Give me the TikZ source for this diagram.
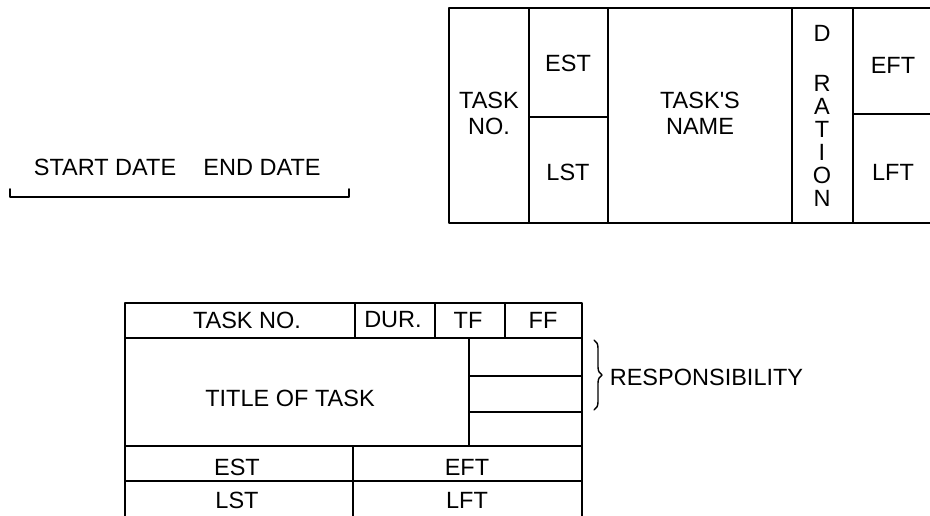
\documentclass[tikz,border=0pt]{standalone}
\usepackage{fontspec}
\setmainfont{Liberation Sans}
\usetikzlibrary{decorations.pathreplacing}

\tikzset{
  lbl/.style={inner sep=0pt, align=center, font=\fontsize{23.5}{26}\selectfont},
  stack/.style={lbl, font=\fontsize{23.5}{23}\selectfont},
}

\begin{document}
\begin{tikzpicture}[line width=1.7pt, line cap=round, line join=round, x=1pt, y=-1pt]
  \useasboundingbox (0,0) rectangle (930,516);
  % Time bar.
  \node[lbl] (start) at (105,167) {START DATE};
  \node[lbl] (end) at (262,167) {END DATE};
  \draw (10,189) -- (10,197) -- (349,197) -- (349,189);
  % Wide task box, cut at the right.
  \draw (930,8) -- (449,8) -- (449,223) -- (930,223);
  \draw (529,8) -- (529,223);
  \draw (608,8) -- (608,223);
  \draw (792,8) -- (792,223);
  \draw (853,8) -- (853,223);
  \draw (529,117) -- (608,117);
  \draw (853,114) -- (930,114);
  \node[lbl] (taskno) at (489,113) {TASK\\NO.};
  \node[lbl] (est) at (568,63) {EST};
  \node[lbl] (lst) at (568,172) {LST};
  \node[lbl] (name) at (700,113) {TASK\textquotesingle S\\NAME};
  \node[lbl] (d) at (822,33) {D};
  \node[stack] (ration) at (822,140.5) {R\\A\\T\\I\\O\\N};
  \node[lbl] (eft) at (893,65) {EFT};
  \node[lbl] (lft) at (893,172) {LFT};
  % Compact task box.
  \draw (125,518) -- (125,303) -- (582,303) -- (582,518);
  \draw (125,338) -- (582,338);
  \draw (125,446) -- (582,446);
  \draw (125,481) -- (582,481);
  \draw (355,303) -- (355,338);
  \draw (435,303) -- (435,338);
  \draw (505,303) -- (505,338);
  \draw (469,338) -- (469,446);
  \draw (469,376) -- (582,376);
  \draw (469,412) -- (582,412);
  \draw (353,446) -- (353,518);
  \node[lbl] (no2) at (247,320) {TASK NO.};
  \node[lbl] (dur) at (393,320) {DUR.};
  \node[lbl] (tf) at (468,320) {TF};
  \node[lbl] (ff) at (543,320) {FF};
  \node[lbl] (title) at (290,398) {TITLE OF TASK};
  \node[lbl] (est2) at (237,467) {EST};
  \node[lbl] (eft2) at (467,467) {EFT};
  \node[lbl] (lst2) at (237,500) {LST};
  \node[lbl] (lft2) at (467,500) {LFT};
  % Responsibility brace.
  \coordinate (btop) at (594,340);
  \coordinate (bbot) at (594,410);
  \draw[line width=1.4pt, decorate, decoration={brace, amplitude=8pt}] (btop) -- (bbot);
  \node[lbl, anchor=west] (resp) at (609,377) {RESPONSIBILITY};
\end{tikzpicture}
\end{document}
